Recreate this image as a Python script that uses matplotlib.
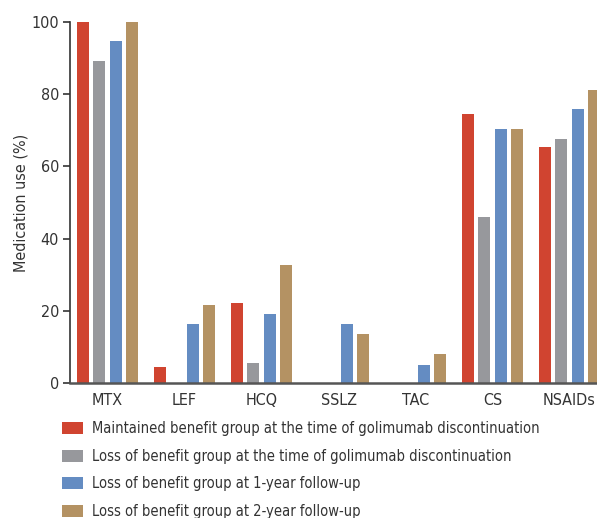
import matplotlib
matplotlib.use("Agg")
import matplotlib.pyplot as plt
import numpy as np
from matplotlib.patches import Patch

categories = ["MTX", "LEF", "HCQ", "SSLZ", "TAC", "CS", "NSAIDs"]
series_names = [
    "Maintained benefit group at the time of golimumab discontinuation",
    "Loss of benefit group at the time of golimumab discontinuation",
    "Loss of benefit group at 1-year follow-up",
    "Loss of benefit group at 2-year follow-up",
]
maintained_disc = [100, 4.5, 22.2, 0, 0, 74.5, 65.4]
loss_disc = [89.2, 0, 5.6, 0, 0, 46.0, 67.6]
loss_1yr = [94.7, 16.3, 19.1, 16.3, 5.0, 70.4, 75.9]
loss_2yr = [100, 21.6, 32.7, 13.6, 8.0, 70.4, 81.2]
colors = ["#D04430", "#97989C", "#648CC2", "#B49263"]

plt.rcParams['font.family'] = ['DejaVu Sans']
plt.rcParams['font.stretch'] = 'condensed'

fig = plt.figure(figsize=(5.97, 5.18), dpi=100)
ax = fig.add_axes([70/597, 135/518, 1 - 70/597, (383-22)/518])

x = np.arange(len(categories))
stride = 0.212
width = 0.156
data = [maintained_disc, loss_disc, loss_1yr, loss_2yr]
for i, (vals, c) in enumerate(zip(data, colors)):
    ax.bar(x + (i - 1.5) * stride, vals, width=width, color=c, linewidth=0)

ax.set_xlim(-0.487, 6.357)
ax.set_ylim(0, 100)
ax.set_yticks([0, 20, 40, 60, 80, 100])
ax.set_xticks(x)
ax.set_xticklabels(categories)
ax.tick_params(axis='x', length=0, pad=7, labelsize=11.5, colors='#333333')
ax.tick_params(axis='y', length=5, width=1.2, direction='out', labelsize=11.5, colors='#333333', pad=3)
for s in ['top', 'right']:
    ax.spines[s].set_visible(False)
ax.spines['left'].set_color('#333333')
ax.spines['left'].set_linewidth(1.2)
ax.spines['bottom'].set_color('#555555')
ax.spines['bottom'].set_linewidth(1.8)
ax.set_ylabel("Medication use (%)", fontsize=11.5, color='#333333', labelpad=2)

handles = [Patch(facecolor=c, edgecolor='none') for c in colors]
fig.legend(handles, series_names, loc='upper left', bbox_to_anchor=(58/597, 1 - 417/518),
           frameon=False, fontsize=10.5, handlelength=1.38, handleheight=0.88,
           labelspacing=0.86, handletextpad=0.62, labelcolor='#333333',
           borderaxespad=0, borderpad=0.3)

fig.savefig("out.png", dpi=100)
